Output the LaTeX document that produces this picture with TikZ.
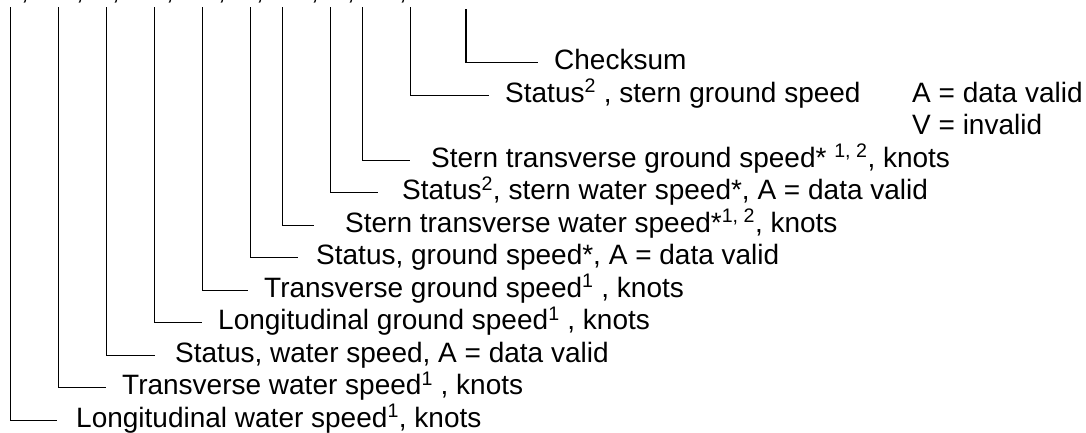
\documentclass[tikz,border=0pt]{standalone}
\usepackage{fontspec}
\setmainfont{Liberation Sans}
\usepackage{tikz}

\begin{document}
\begin{tikzpicture}[x=1pt, y=-1pt,
        field/.style = {anchor=west, inner xsep=16pt, inner ysep=0pt, text height=14pt, text depth=0pt},
        plain/.style = {anchor=west, inner sep=0pt, text height=14pt, text depth=0pt},
        lead/.style = {draw, line width=0.8pt},
        sumlead/.style = {draw, line width=1.6pt},
        font=\fontsize{28}{32.5}\selectfont]
            \useasboundingbox (0,0) rectangle (1086,432);
            \clip (0,0) rectangle (1086,432);

            % tails of the sentence separators, cut at the top edge
            \node[anchor=base, inner sep=0pt] (c1) at (25,-1) {,};
            \node[anchor=base, inner sep=0pt] (c2) at (80,-1) {,};
            \node[anchor=base, inner sep=0pt] (c3) at (116,-1) {,};
            \node[anchor=base, inner sep=0pt] (c4) at (170,-1) {,};
            \node[anchor=base, inner sep=0pt] (c5) at (222,-1) {,};
            \node[anchor=base, inner sep=0pt] (c6) at (260,-1) {,};
            \node[anchor=base, inner sep=0pt] (c7) at (315,-1) {,};
            \node[anchor=base, inner sep=0pt] (c8) at (351,-1) {,};
            \node[anchor=base, inner sep=0pt] (c9) at (403,-1) {,};

            \coordinate (tLW) at (10,7);
            \coordinate (tTW) at (58,7);
            \coordinate (tSW) at (106,7);
            \coordinate (tLG) at (154,7);
            \coordinate (tTG) at (202,7);
            \coordinate (tSG) at (250,7);
            \coordinate (tSTW) at (282,7);
            \coordinate (tSSW) at (330,7);
            \coordinate (tSTG) at (362,7);
            \coordinate (tSSG) at (410,7);
            \coordinate (tCS) at (466,9);

            \node[field, inner xsep=19pt] (LW) at (57,420) {Longitudinal water speed\textsuperscript{1}, knots};
            \node[field] (TW) at (106,387.5) {Transverse water speed\textsuperscript{1} , knots};
            \node[field, inner xsep=20pt] (SW) at (155,355) {Status, water speed, A = data valid};
            \node[field] (LG) at (202,322.5) {Longitudinal ground speed\textsuperscript{1} , knots};
            \node[field] (TG) at (248,290) {Transverse ground speed\textsuperscript{1} , knots};
            \node[field, inner xsep=18pt] (SG) at (298,257.5) {Status, ground speed*, A = data valid};
            \node[field, inner xsep=31pt] (STW) at (314,225) {Stern transverse water speed*\textsuperscript{1, 2}, knots};
            \node[field, inner xsep=24pt] (SSW) at (378,192.5) {Status\textsuperscript{2}, stern water speed*, A = data valid};
            \node[field, inner xsep=21pt] (STG) at (410,160) {Stern transverse ground speed* \textsuperscript{1, 2}, knots};
            \node[field] (SSG) at (489,95) {Status\textsuperscript{2} , stern ground speed};
            \node[field] (CS) at (538,62.5) {Checksum};

            \node[plain] (valA) at (912,95) {A = data valid};
            \node[plain] (valV) at (912,127.5) {V = invalid};

            \path[lead] (tLW) |- (LW);
            \path[lead] (tTW) |- (TW);
            \path[lead] (tSW) |- (SW);
            \path[lead] (tLG) |- (LG);
            \path[lead] (tTG) |- (TG);
            \path[lead] (tSG) |- (SG);
            \path[lead] (tSTW) |- (STW);
            \path[lead] (tSSW) |- (SSW);
            \path[lead] (tSTG) |- (STG);
            \path[lead] (tSSG) |- (SSG);
            \path[sumlead] (tCS) |- (CS);
        \end{tikzpicture}
\end{document}
